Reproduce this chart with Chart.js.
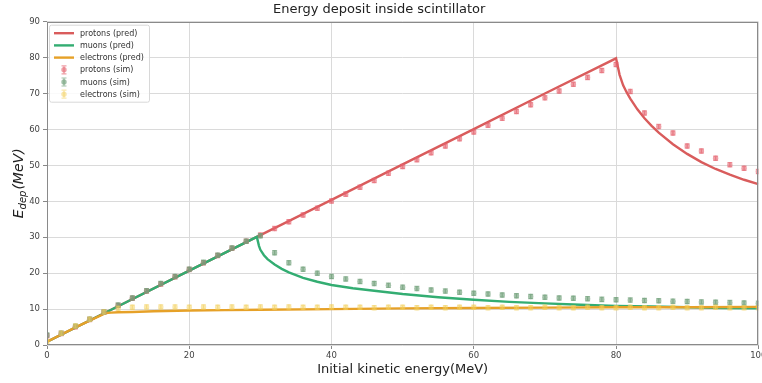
<!DOCTYPE html>
<html>
<head>
<meta charset="utf-8">
<title>Energy deposit inside scintillator</title>
<script src="https://cdn.jsdelivr.net/npm/chart.js@4.4.1/dist/chart.umd.min.js"></script>
<style>
  html, body { margin: 0; padding: 0; background: #fff; }
  #wrap { width: 762px; height: 383px; }
</style>
</head>
<body>
<div id="wrap"><canvas id="edepChart" width="762" height="383"></canvas></div>
<script>
// simulated points (every 2 MeV)
const simEnergy = [0, 2, 4, 6, 8, 10, 12, 14, 16, 18, 20, 22, 24, 26, 28, 30, 32, 34, 36, 38, 40,
    42, 44, 46, 48, 50, 52, 54, 56, 58, 60, 62, 64, 66, 68, 70, 72, 74, 76, 78, 80,
    82, 84, 86, 88, 90, 92, 94, 96, 98, 100];
const protonsSim = [2.6, 3.2, 5.1, 7.1, 9.1, 11.0, 13.0, 15.0, 17.0, 19.0, 21.0, 22.9, 24.9, 26.9, 28.9, 30.6, 32.4, 34.3, 36.2, 38.1, 40.1,
    42.0, 43.9, 45.8, 47.8, 49.7, 51.6, 53.5, 55.4, 57.4, 59.3, 61.2, 63.1, 65.0, 66.9, 68.8, 70.7, 72.6, 74.5, 76.4, 78.1,
    70.6, 64.6, 60.8, 59.0, 55.4, 54.0, 52.0, 50.2, 49.2, 48.3];
const muonsSim = [2.8, 3.3, 5.2, 7.2, 9.2, 11.1, 13.1, 15.1, 17.1, 19.1, 21.1, 23.0, 25.0, 27.0, 28.9, 30.4, 25.7, 22.9, 21.1, 20.0, 19.1,
    18.4, 17.7, 17.1, 16.6, 16.1, 15.7, 15.3, 15.0, 14.7, 14.4, 14.2, 13.9, 13.7, 13.5, 13.3, 13.1, 13.0, 12.9, 12.7, 12.6,
    12.5, 12.4, 12.3, 12.2, 12.1, 12.0, 11.9, 11.8, 11.7, 11.6];
const electronsSim = [1.0, 3.3, 5.3, 7.2, 9.2, 10.2, 10.5, 10.6, 10.6, 10.6, 10.5, 10.6, 10.5, 10.6, 10.5, 10.6, 10.5, 10.6, 10.5, 10.5, 10.6,
    10.5, 10.5, 10.4, 10.5, 10.5, 10.4, 10.5, 10.4, 10.5, 10.5, 10.4, 10.5, 10.4, 10.4, 10.5, 10.4, 10.4, 10.5, 10.4, 10.4,
    10.5, 10.4, 10.4, 10.5, 10.4, 10.4, 10.5, 10.4, 10.4, 10.4];
const simErr = 0.6;

// predicted curves
const protonsPredE = [0, 10, 20, 30, 40, 50, 60, 70, 80, 80.5, 81, 81.5, 82, 83, 84, 85, 86, 88, 90, 92, 94, 96, 98, 100];
const protonsPred = [0.9, 10.8, 20.7, 30.6, 40.4, 50.3, 60.1, 70.0, 79.8, 75.2, 72.3, 70.3, 68.6, 65.6, 63.1, 61.0, 59.1, 55.9, 53.2, 50.9, 49.0, 47.4, 46.0, 44.8];
const muonsPredE = [0, 10, 20, 29.5, 29.8, 30, 30.5, 31, 32, 33, 34, 36, 38, 40, 43, 46, 50, 55, 60, 65, 70, 75, 80, 85, 90, 95, 100];
const muonsPred = [0.9, 10.8, 20.7, 30.1, 27.6, 26.5, 25.0, 23.9, 22.4, 21.2, 20.2, 18.7, 17.6, 16.7, 15.8, 15.1, 14.2, 13.3, 12.6, 12.0, 11.6, 11.2, 10.9, 10.7, 10.5, 10.3, 10.2];
const electronsPredE = [0, 4, 8.3, 9, 10, 12, 15, 20, 25, 30, 40, 50, 60, 70, 80, 90, 100];
const electronsPred = [0.9, 4.9, 8.9, 9.0, 9.1, 9.2, 9.4, 9.6, 9.7, 9.8, 10.0, 10.2, 10.3, 10.4, 10.5, 10.5, 10.6];

const xTicks = [0, 20, 40, 60, 80, 100];
const yTicks = [0, 10, 20, 30, 40, 50, 60, 70, 80, 90];

const FONT = 'DejaVu Sans';
const pts = (xs, ys) => xs.map((x, i) => ({ x: x, y: ys[i] }));

function predSet(label, xs, ys, color, order) {
    return {
        label: label, data: pts(xs, ys), showLine: true, borderColor: color, backgroundColor: color,
        borderWidth: 2.4, pointRadius: 0, tension: 0, order: order, clip: 0, kind: 'line'
    };
}
function simSet(label, ys, color, order) {
    return {
        label: label, data: pts(simEnergy, ys), showLine: false, backgroundColor: color, borderWidth: 0,
        pointRadius: 2.7, pointHoverRadius: 2.7, order: order, clip: 0, kind: 'err', errY: simErr
    };
}

// error bars under each sim marker
const errorBars = {
    id: 'errorBars',
    beforeDatasetDraw(chart, args) {
        const ds = chart.data.datasets[args.index];
        if (!ds.errY) return;
        const { ctx, chartArea, scales } = chart;
        ctx.save();
        ctx.beginPath();
        ctx.rect(chartArea.left, chartArea.top, chartArea.right - chartArea.left, chartArea.bottom - chartArea.top);
        ctx.clip();
        ctx.strokeStyle = ds.backgroundColor;
        ctx.lineWidth = 1.2;
        args.meta.data.forEach((el, i) => {
            const v = ds.data[i].y;
            const y1 = scales.y.getPixelForValue(v + ds.errY);
            const y2 = scales.y.getPixelForValue(v - ds.errY);
            ctx.beginPath();
            ctx.moveTo(el.x, y1); ctx.lineTo(el.x, y2);
            ctx.moveTo(el.x - 2.5, y1); ctx.lineTo(el.x + 2.5, y1);
            ctx.moveTo(el.x - 2.5, y2); ctx.lineTo(el.x + 2.5, y2);
            ctx.stroke();
        });
        ctx.restore();
    }
};

// axes frame on all four sides
const frame = {
    id: 'frame',
    afterDatasetsDraw(chart) {
        const { ctx, chartArea: a } = chart;
        ctx.save();
        ctx.strokeStyle = '#8a8a8a';
        ctx.lineWidth = 1;
        ctx.strokeRect(Math.round(a.left) + 0.5, Math.round(a.top) + 0.5,
            Math.round(a.right - a.left) - 1, Math.round(a.bottom - a.top) - 1);
        ctx.restore();
    }
};

// y title with subscript
const yTitle = {
    id: 'yTitle',
    afterDraw(chart) {
        const { ctx, chartArea: a } = chart;
        const big = 'italic 14px "' + FONT + '"';
        const small = 'italic 10px "' + FONT + '"';
        ctx.save();
        ctx.translate(19, (a.top + a.bottom) / 2);
        ctx.rotate(-Math.PI / 2);
        ctx.fillStyle = '#222';
        ctx.textBaseline = 'middle';
        ctx.font = big; const wE = ctx.measureText('E').width;
        ctx.font = small; const wSub = ctx.measureText('dep').width;
        ctx.font = big; const wRest = ctx.measureText('(MeV)').width;
        let x = -(wE + wSub + wRest + 1) / 2;
        ctx.font = big; ctx.fillText('E', x, 0); x += wE;
        ctx.font = small; ctx.fillText('dep', x, 4); x += wSub + 1;
        ctx.font = big; ctx.fillText('(MeV)', x, 0);
        ctx.restore();
    }
};

// legend box in the upper-left corner
const cornerLegend = {
    id: 'cornerLegend',
    afterDraw(chart) {
        const { ctx, chartArea: a } = chart;
        const bx = a.left + 2, by = a.top + 3, bw = 100, bh = 77;
        ctx.save();
        ctx.fillStyle = 'rgba(255,255,255,0.85)';
        ctx.strokeStyle = '#d8d8d8';
        ctx.lineWidth = 1;
        ctx.beginPath();
        ctx.roundRect(bx + 0.5, by + 0.5, bw, bh, 2);
        ctx.fill(); ctx.stroke();
        ctx.font = '8px "' + FONT + '"';
        ctx.textBaseline = 'middle';
        chart.data.datasets.forEach((ds, i) => {
            const y = by + 8.5 + i * 12.2;
            if (ds.kind === 'line') {
                ctx.strokeStyle = ds.borderColor;
                ctx.lineWidth = 2.4;
                ctx.beginPath(); ctx.moveTo(bx + 5, y); ctx.lineTo(bx + 25, y); ctx.stroke();
            } else {
                const cx = bx + 15;
                ctx.strokeStyle = ds.backgroundColor;
                ctx.fillStyle = ds.backgroundColor;
                ctx.lineWidth = 1.2;
                ctx.beginPath();
                ctx.moveTo(cx, y - 4); ctx.lineTo(cx, y + 4);
                ctx.moveTo(cx - 2.5, y - 4); ctx.lineTo(cx + 2.5, y - 4);
                ctx.moveTo(cx - 2.5, y + 4); ctx.lineTo(cx + 2.5, y + 4);
                ctx.stroke();
                ctx.beginPath(); ctx.arc(cx, y, 2.7, 0, Math.PI * 2); ctx.fill();
            }
            ctx.fillStyle = '#333';
            ctx.fillText(ds.label, bx + 31, y + 0.5);
        });
        ctx.restore();
    }
};

const ctx = document.getElementById('edepChart');
new Chart(ctx, {
    type: 'scatter',
    data: {
        datasets: [
            predSet('protons (pred)', protonsPredE, protonsPred, '#d95c5c', 6),
            predSet('muons (pred)', muonsPredE, muonsPred, '#33ad72', 5),
            predSet('electrons (pred)', electronsPredE, electronsPred, '#e6a128', 4),
            simSet('protons (sim)', protonsSim, 'rgba(228, 96, 108, 0.6)', 3),
            simSet('muons (sim)', muonsSim, 'rgba(112, 160, 122, 0.65)', 2),
            simSet('electrons (sim)', electronsSim, 'rgba(244, 208, 88, 0.5)', 1)
        ]
    },
    options: {
        responsive: false,
        animation: false,
        devicePixelRatio: 1,
        layout: { padding: { left: 0, right: 3.7, top: 0, bottom: 0 } },
        scales: {
            x: {
                type: 'linear', min: 0, max: 100,
                afterBuildTicks: (scale) => { scale.ticks = xTicks.map(v => ({ value: v })); },
                afterFit: (scale) => { scale.height = 38; scale.paddingLeft = 0; scale.paddingRight = 0; },
                grid: { color: '#dadada', lineWidth: 1, tickLength: 4, tickColor: '#888' },
                border: { display: false },
                ticks: { color: '#444', font: { family: FONT, size: 8.5 }, padding: 2, maxRotation: 0 },
                title: {
                    display: true, text: 'Initial kinetic energy(MeV)', color: '#222',
                    font: { family: FONT, size: 13 }, padding: { top: 0, bottom: 6 }
                }
            },
            y: {
                type: 'linear', min: 0, max: 90,
                afterBuildTicks: (scale) => { scale.ticks = yTicks.map(v => ({ value: v })); },
                afterFit: (scale) => { scale.width = 47; },
                grid: { color: '#dadada', lineWidth: 1, tickLength: 4, tickColor: '#888' },
                border: { display: false },
                ticks: { color: '#444', font: { family: FONT, size: 8.5 }, padding: 3 }
            }
        },
        plugins: {
            legend: { display: false },
            tooltip: { enabled: false },
            title: {
                display: true, text: 'Energy deposit inside scintillator', color: '#222',
                font: { family: FONT, size: 13, weight: 'normal' }, padding: { top: 2, bottom: 4.1 }
            }
        }
    },
    plugins: [errorBars, frame, yTitle, cornerLegend]
});
</script>
</body>
</html>
